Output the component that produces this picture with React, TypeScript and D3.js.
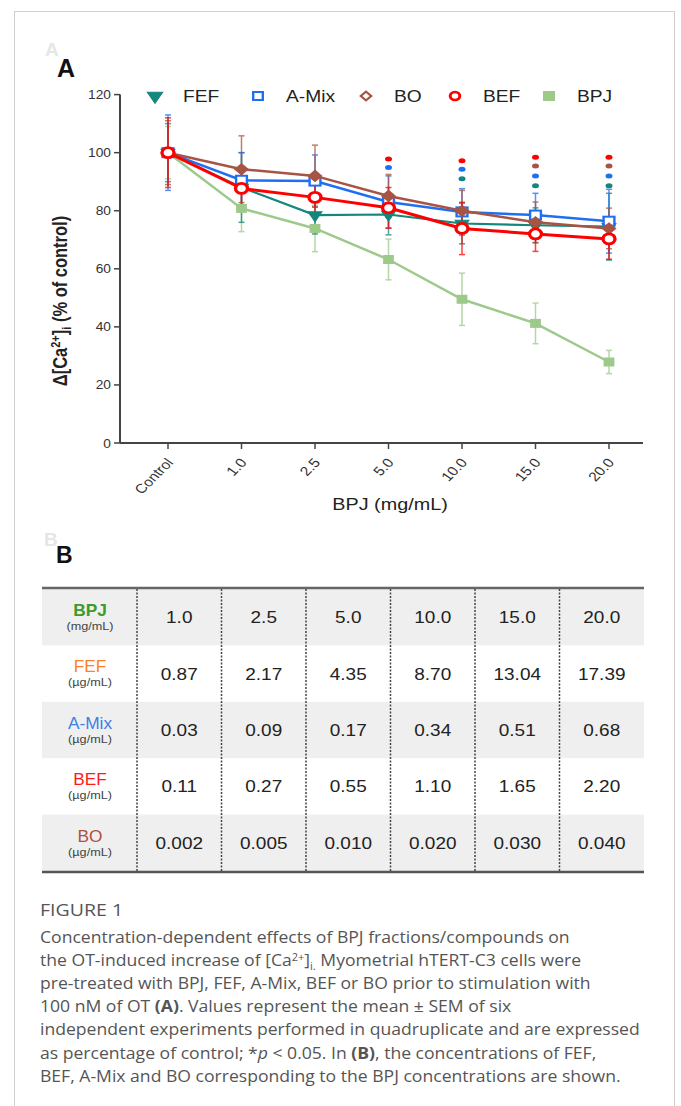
import React from 'react';
import * as d3 from 'd3';

// chart A data
const categories = ['Control', '1.0', '2.5', '5.0', '10.0', '15.0', '20.0'];
const fefMean = [100, 88, 78.5, 78.7, 75.6, 75, 74.5];
const fefSem = [10, 12, 6.5, 7, 7, 6, 11.5];
const aMixMean = [100, 90.5, 90.2, 83, 79.6, 78.5, 76.4];
const aMixSem = [13, 9.5, 9, 9, 8, 7.5, 11];
const boMean = [100, 94.3, 92, 85.1, 80, 76, 73.9];
const boSem = [11, 11.5, 10.6, 7.4, 7, 7, 7];
const befMean = [100, 87.7, 84.6, 81, 73.9, 72, 70.3];
const befSem = [12, 7, 6, 7, 9, 6, 7];
const bpjMean = [100, 80.8, 73.9, 63.2, 49.5, 41.2, 27.9];
const bpjSem = [9, 8, 8, 7, 9, 7, 4];

// significance marks (*p < 0.05): category, series, level drawn at
const sigCats = ['5.0', '5.0', '10.0', '10.0', '10.0', '15.0', '15.0', '15.0', '15.0', '20.0', '20.0', '20.0', '20.0'];
const sigSeries = ['BEF', 'A-Mix', 'BEF', 'A-Mix', 'FEF', 'BEF', 'BO', 'A-Mix', 'FEF', 'BEF', 'BO', 'A-Mix', 'FEF'];
const sigLevels = [97.8, 94.9, 97.2, 94.3, 91, 98.4, 95.4, 92, 88.6, 98.4, 95.4, 92, 88.6];

const yTicks = [0, 20, 40, 60, 80, 100, 120];

// table B data
const tableRows = ['BPJ', 'FEF', 'A-Mix', 'BEF', 'BO'];
const tableUnits = ['(mg/mL)', '(µg/mL)', '(µg/mL)', '(µg/mL)', '(µg/mL)'];
const bpjConc = ['1.0', '2.5', '5.0', '10.0', '15.0', '20.0'];
const fefConc = ['0.87', '2.17', '4.35', '8.70', '13.04', '17.39'];
const aMixConc = ['0.03', '0.09', '0.17', '0.34', '0.51', '0.68'];
const befConc = ['0.11', '0.27', '0.55', '1.10', '1.65', '2.20'];
const boConc = ['0.002', '0.005', '0.010', '0.020', '0.030', '0.040'];
const tableValues = [bpjConc, fefConc, aMixConc, befConc, boConc];

// caption: segments [text, style]
const captionLines = [
  [['Concentration-dependent effects of BPJ fractions/compounds on', '']],
  [['the OT-induced increase of [Ca', ''], ['2+', 'sup'], [']', ''], ['i.', 'sub'], [' Myometrial hTERT-C3 cells were', '']],
  [['pre-treated with BPJ, FEF, A-Mix, BEF or BO prior to stimulation with', '']],
  [['100 nM of OT ', ''], ['(A)', 'b'], ['. Values represent the mean ± SEM of six', '']],
  [['independent experiments performed in quadruplicate and are expressed', '']],
  [['as percentage of control; *', ''], ['p', 'i'], [' < 0.05. In ', ''], ['(B)', 'b'], [', the concentrations of FEF,', '']],
  [['BEF, A-Mix and BO corresponding to the BPJ concentrations are shown.', '']],
];

const ARIAL = '"Liberation Sans", Arial, sans-serif';
const SX = 1.2;

const series = [
  { key: 'BPJ', color: '#9dc98b', mean: bpjMean, sem: bpjSem, symbol: 'square', lw: 2.5, size: 7, filled: true },
  { key: 'FEF', color: '#13877d', mean: fefMean, sem: fefSem, symbol: 'triangle', lw: 2.2, size: 9, filled: true },
  { key: 'A-Mix', color: '#1f6ff2', mean: aMixMean, sem: aMixSem, symbol: 'square', lw: 2.5, size: 9, filled: false },
  { key: 'BO', color: '#a85443', mean: boMean, sem: boSem, symbol: 'diamond', lw: 2.5, size: 9, filled: true },
  { key: 'BEF', color: '#ff0000', mean: befMean, sem: befSem, symbol: 'circle', lw: 3, size: 10, filled: false },
];
const legendOrder = ['FEF', 'A-Mix', 'BO', 'BEF', 'BPJ'];
const legendMarkX = [155, 258, 366, 455, 549];

const rowColors = ['#3c9a2e', '#ff7f2a', '#3d7fe6', '#ff1a1a', '#b0503f'];

function T({ x, y, size = 13, anchor = 'start', fill = '#222', weight = 'normal', family = ARIAL, rotate = 0, sx = SX, children }: any) {
  return (
    <text
      transform={`translate(${x},${y}) scale(${sx},1)${rotate ? ` rotate(${rotate})` : ''}`}
      fontSize={size}
      fontFamily={family}
      fontWeight={weight}
      textAnchor={anchor}
      fill={fill}
    >
      {children}
    </text>
  );
}

function Marker({ type, x, y, size, color, filled, lw = 2 }: any) {
  const s = size;
  let el;
  if (type === 'circle') {
    el = <circle r={s / 2} fill={filled ? color : '#fff'} stroke={color} strokeWidth={lw} />;
  } else if (type === 'square') {
    el = <rect x={-s / 2} y={-s / 2} width={s} height={s} fill={filled ? color : '#fff'} stroke={color} strokeWidth={lw} />;
  } else if (type === 'diamond') {
    el = <rect x={-s / 2.6} y={-s / 2.6} width={s / 1.3} height={s / 1.3} transform="rotate(45)" fill={filled ? color : '#fff'} stroke={color} strokeWidth={lw} />;
  } else {
    const path = d3.symbol().type(d3.symbolTriangle).size(s * s * 0.7)();
    el = <path d={path || ''} transform="rotate(180)" fill={color} stroke={color} strokeWidth={1} />;
  }
  return <g transform={`translate(${x},${y}) scale(${SX},1)`}>{el}</g>;
}

function Chart() {
  const x = d3.scalePoint<string>().domain(categories).range([168, 609]);
  const y = d3.scaleLinear().domain([0, 120]).range([443, 94.6]);
  const line = d3.line<number>()
    .x((_, i) => x(categories[i]) as number)
    .y(d => y(d));

  return (
    <g>
      {/* axes */}
      <line x1={120} x2={120} y1={y(120)} y2={y(0)} stroke="#444" strokeWidth={2} />
      <line x1={120} x2={643} y1={y(0)} y2={y(0)} stroke="#444" strokeWidth={2} />
      {yTicks.map(t => (
        <g key={t}>
          <line x1={114} x2={120} y1={y(t)} y2={y(t)} stroke="#444" strokeWidth={1.5} />
          <T x={111} y={y(t) + 4.5} size={12.5} anchor="end" fill="#333" sx={1.1}>{t}</T>
        </g>
      ))}
      {categories.map(c => (
        <g key={c}>
          <line x1={x(c)} x2={x(c)} y1={y(0)} y2={y(0) + 6} stroke="#444" strokeWidth={1.5} />
          <T x={(x(c) as number) + 6} y={y(0) + 20} size={13} anchor="end" fill="#333" rotate={-50}>{c}</T>
        </g>
      ))}
      <T x={390} y={510} size={16.5} anchor="middle" fill="#222">BPJ (mg/mL)</T>
      <text transform={`translate(67,301) scale(${SX},1) rotate(-90)`} fontSize={16.5} fontFamily={ARIAL} fontWeight="bold" textAnchor="middle" fill="#222">
        Δ[Ca<tspan dy={-6} fontSize={11}>2+</tspan><tspan dy={6}>]</tspan><tspan dy={3} fontSize={11}>i</tspan><tspan dy={-3}> (% of control)</tspan>
      </text>

      {/* error bars */}
      {series.map(s => (
        <g key={s.key + 'err'} stroke={s.color} strokeWidth={1.5} opacity={0.75}>
          {s.mean.map((m, i) => {
            const cx = x(categories[i]) as number;
            return (
              <g key={i}>
                <line x1={cx} x2={cx} y1={y(m - s.sem[i])} y2={y(m + s.sem[i])} />
                <line x1={cx - 3} x2={cx + 3} y1={y(m - s.sem[i])} y2={y(m - s.sem[i])} />
                <line x1={cx - 3} x2={cx + 3} y1={y(m + s.sem[i])} y2={y(m + s.sem[i])} />
              </g>
            );
          })}
        </g>
      ))}

      {/* lines and markers */}
      {series.map(s => (
        <g key={s.key}>
          <path d={line(s.mean) || ''} fill="none" stroke={s.color} strokeWidth={s.lw} />
          {s.mean.map((m, i) => (
            <Marker key={i} type={s.symbol} x={x(categories[i])} y={y(m)} size={s.size} color={s.color} filled={s.filled} lw={s.symbol === 'circle' ? 2.8 : 2} />
          ))}
        </g>
      ))}

      {/* significance */}
      {sigCats.map((c, i) => {
        const s = series.find(d => d.key === sigSeries[i])!;
        return <ellipse key={i} cx={x(c)} cy={y(sigLevels[i])} rx={3.5} ry={2.5} fill={s.color} />;
      })}

      {/* legend */}
      {legendOrder.map((k, i) => {
        const s = series.find(d => d.key === k)!;
        return (
          <g key={k}>
            <Marker type={s.symbol} x={legendMarkX[i]} y={96} size={s.symbol === 'triangle' ? 10 : 8} color={s.color}
              filled={s.key === 'FEF' || s.key === 'BPJ'} lw={s.symbol === 'circle' ? 2.5 : 2} />
            <T x={legendMarkX[i] + 28} y={102} size={16} fill="#222">{k}</T>
          </g>
        );
      })}
    </g>
  );
}

function Table() {
  const col = d3.scaleBand<string>().domain(bpjConc).range([137, 644]);
  const row = d3.scaleBand<string>().domain(tableRows).range([589, 871]);
  const rh = row.bandwidth();
  return (
    <g>
      {tableRows.map((r, i) => (
        <g key={r}>
          {i % 2 === 0 && <rect x={42} y={row(r)} width={602} height={rh} fill="#efefef" />}
          <T x={90} y={(row(r) as number) + 27} size={16.5} anchor="middle" fill={rowColors[i]} weight={i === 0 ? 'bold' : 'normal'} sx={1.05}>{r}</T>
          <T x={90} y={(row(r) as number) + 41} size={11.5} anchor="middle" fill="#444" sx={1.1}>{tableUnits[i]}</T>
          {tableValues[i].map((v, j) => (
            <T key={j} x={(col(bpjConc[j]) as number) + col.bandwidth() / 2} y={(row(r) as number) + rh / 2 + 6} size={16.5} anchor="middle" fill="#222" sx={1.15}>{v}</T>
          ))}
        </g>
      ))}
      {bpjConc.map(c => (
        <line key={c} x1={col(c)} x2={col(c)} y1={589} y2={871} stroke="#444" strokeWidth={1.5} strokeDasharray="2,1.5" />
      ))}
      <line x1={42} x2={644} y1={588} y2={588} stroke="#666" strokeWidth={2.5} />
      <line x1={42} x2={644} y1={872} y2={872} stroke="#555" strokeWidth={2.5} />
    </g>
  );
}

function Caption() {
  const fam = '"Open Sans", "Noto Sans", sans-serif';
  return (
    <g>
      <T x={40} y={916} size={17} fill="#555" family={fam} sx={1.15}>FIGURE 1</T>
      {captionLines.map((segs, i) => (
        <text key={i} transform={`translate(40,${943 + i * 23.1}) scale(1.1,1)`} fontSize={16} fontFamily={fam} fill="#555">
          {segs.map(([t, st], j) => {
            if (st === 'sup') return <tspan key={j} dy={-5} fontSize={10}>{t}</tspan>;
            if (st === 'sub') return <tspan key={j} dy={4} fontSize={10}>{t}</tspan>;
            const prev = segs[j - 1];
            const dy = prev ? (prev[1] === 'sup' ? 5 : prev[1] === 'sub' ? -4 : 0) : 0;
            return (
              <tspan key={j} dy={dy || undefined} fontWeight={st === 'b' ? 'bold' : undefined} fontStyle={st === 'i' ? 'italic' : undefined}>{t}</tspan>
            );
          })}
        </text>
      ))}
    </g>
  );
}

export default function App() {
  return (
    <div style={{ position: 'absolute', left: 0, top: 0 }}>
      <svg width={681} height={1106} style={{ display: 'block', background: '#fff' }}>
        <rect x={14.5} y={11.5} width={660} height={1120} fill="none" stroke="#cfcfcf" strokeWidth={1} />
        <T x={45} y={56} size={19} fill="#e6e6e6" weight="bold" sx={1}>A</T>
        <T x={57} y={77} size={25} fill="#111" weight="bold" sx={1}>A</T>
        <T x={44} y={546} size={19} fill="#e6e6e6" weight="bold" sx={1}>B</T>
        <T x={56} y={563} size={23} fill="#111" weight="bold" sx={1}>B</T>
        <Chart />
        <Table />
        <Caption />
      </svg>
    </div>
  );
}
